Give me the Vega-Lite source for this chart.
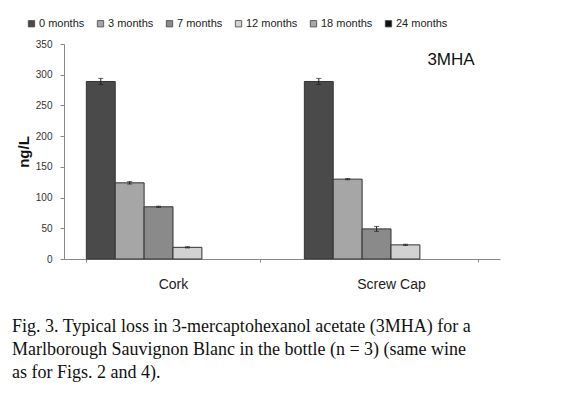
{
  "$schema": "https://vega.github.io/schema/vega-lite/v6.json",
  "width": 436,
  "height": 215,
  "autosize": "none",
  "padding": {"left": 64, "top": 44, "right": 67, "bottom": 135},
  "background": "white",
  "config": {
    "view": {"stroke": null},
    "font": "Liberation Sans",
    "axisY": {
      "titleFontSize": 15,
      "titleFontWeight": "bold",
      "titleColor": "#111",
      "titlePadding": 4,
      "labelFontSize": 10,
      "labelColor": "#333",
      "labelPadding": 8,
      "domainColor": "#888",
      "tickColor": "#888",
      "tickSize": 4,
      "grid": false
    }
  },
  "title": {
    "text": ["Fig. 3. Typical loss in 3-mercaptohexanol acetate (3MHA) for a", "Marlborough Sauvignon Blanc in the bottle (n = 3) (same wine", "as for Figs. 2 and 4)."],
    "orient": "bottom",
    "anchor": "start",
    "frame": "group",
    "dx": -52,
    "offset": 27,
    "font": "Liberation Serif",
    "fontSize": 18,
    "fontWeight": "normal",
    "color": "#111",
    "lineHeight": 23
  },
  "data": {
    "values": [
      {"cap": "Cork", "months": "0 months", "value": 289, "low": 284, "high": 294},
      {"cap": "Cork", "months": "3 months", "value": 124, "low": 122, "high": 126},
      {"cap": "Cork", "months": "7 months", "value": 85, "low": 84, "high": 86},
      {"cap": "Cork", "months": "12 months", "value": 19, "low": 18, "high": 20},
      {"cap": "Screw Cap", "months": "0 months", "value": 289, "low": 284, "high": 294},
      {"cap": "Screw Cap", "months": "3 months", "value": 130, "low": 129, "high": 131},
      {"cap": "Screw Cap", "months": "7 months", "value": 49, "low": 45, "high": 53},
      {"cap": "Screw Cap", "months": "12 months", "value": 23, "low": 22, "high": 24}
    ]
  },
  "encoding": {
    "x": {
      "field": "cap",
      "type": "nominal",
      "scale": {"paddingInner": 0.205, "paddingOuter": 0.1025},
      "axis": {
        "title": null,
        "labelAngle": 0,
        "labelFontSize": 14,
        "labelColor": "#222",
        "labelPadding": 15,
        "domainColor": "#888",
        "tickColor": "#888",
        "tickSize": 3,
        "tickBand": "extent"
      }
    },
    "xOffset": {
      "field": "months",
      "type": "nominal",
      "scale": {
        "domain": ["0 months", "3 months", "7 months", "12 months", "18 months", "24 months"],
        "paddingInner": 0,
        "paddingOuter": 0
      }
    }
  },
  "layer": [
    {
      "mark": {"type": "bar", "stroke": "#333", "strokeWidth": 1},
      "encoding": {
        "y": {
          "field": "value",
          "type": "quantitative",
          "scale": {"domain": [0, 350], "nice": false},
          "axis": {"title": "ng/L", "values": [0, 50, 100, 150, 200, 250, 300, 350]}
        },
        "color": {
          "field": "months",
          "type": "nominal",
          "scale": {
            "domain": ["0 months", "3 months", "7 months", "12 months", "18 months", "24 months"],
            "range": ["#4a4a4a", "#a6a6a6", "#8a8a8a", "#d2d2d2", "#a8a8a8", "#111111"]
          },
          "legend": {
            "title": null,
            "orient": "none",
            "direction": "horizontal",
            "columns": 6,
            "legendX": -38,
            "legendY": -26,
            "symbolType": "square",
            "symbolSize": 40,
            "symbolStrokeColor": "#444",
            "symbolStrokeWidth": 0.8,
            "labelFontSize": 11,
            "labelColor": "#222",
            "labelOffset": 2,
            "columnPadding": 10
          }
        }
      }
    },
    {
      "mark": {"type": "rule", "color": "#222", "strokeWidth": 1},
      "encoding": {
        "y": {"field": "low", "type": "quantitative", "axis": {"title": "ng/L", "values": [0, 50, 100, 150, 200, 250, 300, 350]}},
        "y2": {"field": "high"}
      }
    },
    {
      "mark": {"type": "tick", "color": "#222", "thickness": 1, "size": 5, "orient": "horizontal"},
      "encoding": {
        "y": {"field": "low", "type": "quantitative", "axis": {"title": "ng/L", "values": [0, 50, 100, 150, 200, 250, 300, 350]}}
      }
    },
    {
      "mark": {"type": "tick", "color": "#222", "thickness": 1, "size": 5, "orient": "horizontal"},
      "encoding": {
        "y": {"field": "high", "type": "quantitative", "axis": {"title": "ng/L", "values": [0, 50, 100, 150, 200, 250, 300, 350]}}
      }
    },
    {
      "data": {"values": [{"label": "3MHA"}]},
      "mark": {"type": "text", "fontSize": 17, "color": "#111", "dx": 60, "align": "center", "baseline": "middle"},
      "encoding": {
        "x": {"datum": "Screw Cap"},
        "xOffset": null,
        "y": {"datum": 324, "type": "quantitative", "axis": {"title": "ng/L", "values": [0, 50, 100, 150, 200, 250, 300, 350]}},
        "text": {"field": "label"}
      }
    }
  ]
}
